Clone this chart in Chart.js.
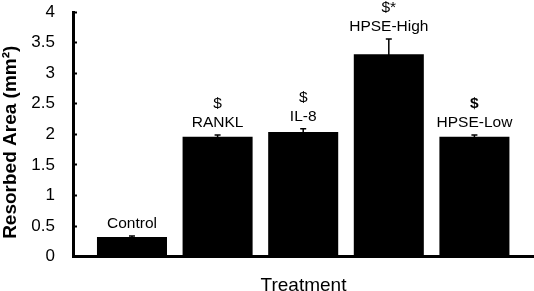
<!DOCTYPE html>
<html>
<head>
<meta charset="utf-8">
<script src="https://cdn.jsdelivr.net/npm/chart.js@4/dist/chart.umd.min.js"></script>
<style>
html,body{margin:0;padding:0;background:#fff;}
#wrap{width:534px;height:291px;position:relative;}
</style>
</head>
<body>
<div id="wrap"><canvas id="c" width="534" height="291"></canvas></div>
<script>
const categories = ['Control', 'RANKL', 'IL-8', 'HPSE-High', 'HPSE-Low'];
const values = [0.32, 1.96, 2.04, 3.31, 1.96];
const errors = [0.02, 0.03, 0.05, 0.25, 0.03];
const marks = ['', '$', '$', '$*', '$'];
const markBold = [false, false, false, false, true];
const yTicks = [0, 0.5, 1, 1.5, 2, 2.5, 3, 3.5, 4];

const FONT = "'Liberation Sans', Arial, sans-serif";

const annotate = {
  id: 'annotate',
  afterDatasetsDraw(chart) {
    const ctx = chart.ctx;
    const xs = chart.scales.x, ys = chart.scales.y;
    ctx.save();
    ctx.strokeStyle = '#000';
    ctx.fillStyle = '#000';
    ctx.lineWidth = 1.5;
    values.forEach((v, i) => {
      const x = xs.getPixelForValue(i);
      const yTop = ys.getPixelForValue(v + errors[i]);
      const yBot = ys.getPixelForValue(v - errors[i]);
      ctx.beginPath();
      ctx.moveTo(x, yBot); ctx.lineTo(x, yTop);
      ctx.moveTo(x - 3, yTop); ctx.lineTo(x + 3, yTop);
      ctx.stroke();
      ctx.textAlign = 'center';
      ctx.textBaseline = 'middle';
      ctx.font = '15.5px ' + FONT;
      const ly = yTop - 12;
      ctx.fillText(categories[i], x, ly);
      if (marks[i]) {
        ctx.font = (markBold[i] ? 'bold ' : '') + '15.5px ' + FONT;
        ctx.fillText(marks[i], x, ly - 19.5);
      }
    });
    ctx.restore();
  }
};

new Chart(document.getElementById('c'), {
  type: 'bar',
  data: {
    datasets: [{
      data: values.map((v, i) => ({x: i, y: v})),
      backgroundColor: '#000',
      borderWidth: 0,
      categoryPercentage: 1,
      barPercentage: 0.818
    }]
  },
  options: {
    responsive: false,
    animation: false,
    devicePixelRatio: 1,
    layout: {padding: {top: 12, right: 0, left: 0, bottom: 0}},
    plugins: {legend: {display: false}, tooltip: {enabled: false}},
    scales: {
      x: {
        type: 'linear',
        offset: false,
        min: -0.689,
        max: 4.696,
        afterBuildTicks(s) { s.ticks = categories.map((c, i) => ({value: i})); },
        ticks: {display: false},
        grid: {display: false},
        border: {display: true, color: '#000', width: 3},
        title: {display: true, text: 'Treatment', color: '#000',
          font: {family: FONT, size: 19, lineHeight: '11px'}, padding: 0},
        afterFit(s) { s.height = 34.3; s.paddingLeft = 0; s.paddingRight = 0; }
      },
      y: {
        min: 0,
        max: 4,
        afterBuildTicks(s) { s.ticks = yTicks.map(v => ({value: v})); },
        ticks: {color: '#000', padding: 22, font: {family: FONT, size: 17},
          callback: (v) => String(v)},
        grid: {display: true, drawOnChartArea: false, drawTicks: true, tickLength: -4,
          tickWidth: 2, color: '#000'},
        border: {display: true, color: '#000', width: 3},
        title: {display: true, text: 'Resorbed Area (mm²)   ', color: '#000',
          font: {family: FONT, size: 19, weight: 'bold', lineHeight: '22px'}, padding: 0},
        afterFit(s) { s.width = 73; s.paddingTop = 0; s.paddingBottom = 0; }
      }
    }
  },
  plugins: [annotate]
});
</script>
</body>
</html>
